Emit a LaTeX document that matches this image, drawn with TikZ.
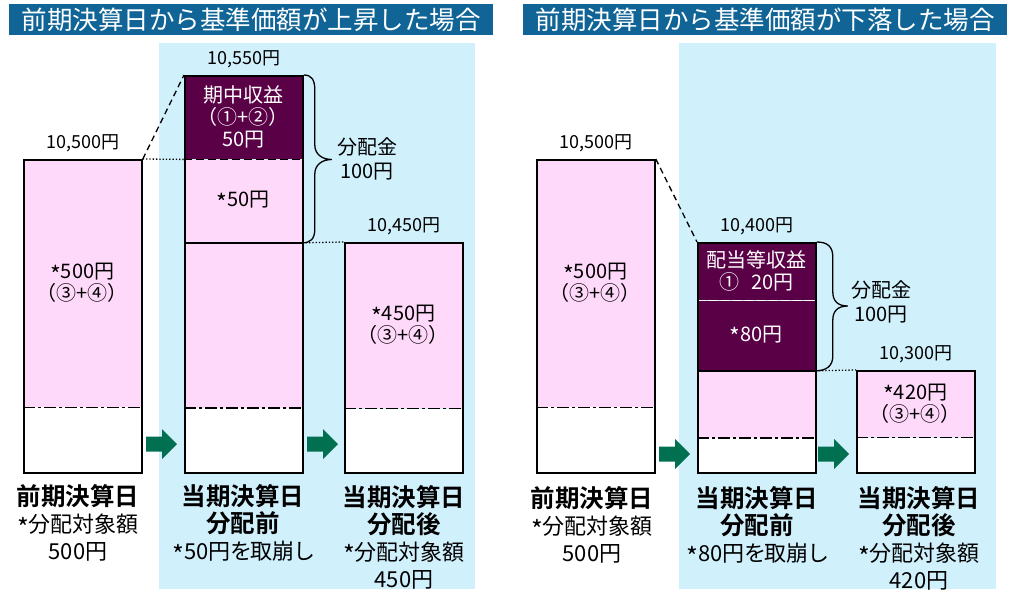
\documentclass[tikz,border=0pt]{standalone}
\usepackage{fontspec}
\setmainfont{Noto Sans CJK JP}[BoldFont={Noto Sans CJK JP Bold}]
\newfontfamily\propfont{Noto Sans CJK JP}[RawFeature=+palt]
\usetikzlibrary{positioning}

\definecolor{titleblue}{RGB}{16,100,150}
\definecolor{bgblue}{RGB}{208,240,252}
\definecolor{barpink}{RGB}{255,217,250}
\definecolor{incomepurple}{RGB}{90,0,70}
\definecolor{arrowgreen}{RGB}{0,112,80}

% centred asterisk as in the figure
\newcommand{\astmark}{\raisebox{-0.22em}{\scalebox{1.15}{*}}}

\begin{document}
\begin{tikzpicture}[x=1pt, y=-1pt,
        seg/.style={anchor=north west, inner sep=0pt, minimum width=118pt, align=center, font=\fontsize{20}{22}\selectfont},
        barframe/.style={draw, line width=1.8pt, anchor=north west, inner sep=0pt, minimum width=118pt},
        amount/.style={inner sep=0pt, font=\fontsize{18}{20}\selectfont},
        sumtext/.style={inner sep=0pt, align=center, font=\fontsize{20}{24}\selectfont},
        caption/.style={inner sep=0pt, align=center, font=\fontsize{22}{27}\selectfont},
        headbar/.style={fill=titleblue, text=white, minimum width=484pt, minimum height=31pt, inner sep=0pt, font=\fontsize{25.5}{30}\selectfont},
        dashdotline/.style={line width=1.8pt, dash pattern=on 12pt off 3pt on 3pt off 3pt},
        splitline/.style={line width=1.8pt, dash pattern=on 8pt off 4pt},
        dotline/.style={line width=1.3pt, dotted},
        dashline/.style={line width=1.3pt, dash pattern=on 6pt off 4pt},
        braceline/.style={line width=1.3pt}
    ]
    \useasboundingbox (0,0) rectangle (1011,589);

    % Rising case
    \node[headbar] (upTitle) at (251,19.5) {前期決算日から基準価額が上昇した場合};
    \fill[bgblue] (159,43) rectangle (475,589);

    % previous closing date
    \node[seg, fill=barpink, minimum height=248pt] (upPrevFund) at (23,159) {\astmark{}500円\\（③+④）};
    \node[seg, fill=white, minimum height=65pt] (upPrevRest) at (upPrevFund.south west) {};
    \draw[dashdotline] (upPrevFund.south west) -- (upPrevFund.south east);
    \node[barframe, minimum height=313pt] (upPrev) at (23,159) {};
    \node[amount, above=6.5pt of upPrev] {10,500円};

    % before distribution
    \node[seg, fill=incomepurple, text=white, minimum height=84pt] (upBeforeIncome) at (184,75) {期中収益\\（①+②）\\50円};
    \node[seg, fill=barpink, minimum height=83pt] (upBeforeDraw) at (upBeforeIncome.south west) {\astmark{}50円};
    \node[seg, fill=barpink, minimum height=165pt] (upBeforeFund) at (upBeforeDraw.south west) {};
    \node[seg, fill=white, minimum height=65pt] (upBeforeRest) at (upBeforeFund.south west) {};
    \draw[splitline] (upBeforeIncome.south west) -- (upBeforeIncome.south east);
    \draw[line width=1.8pt] (upBeforeDraw.south west) -- (upBeforeDraw.south east);
    \draw[dashdotline] (upBeforeFund.south west) -- (upBeforeFund.south east);
    \node[barframe, minimum height=397pt] (upBefore) at (184,75) {};
    \node[amount, above=6.5pt of upBefore] {10,550円};

    % after distribution
    \node[seg, fill=barpink, minimum height=166pt] (upAfterFund) at (344,242) {\astmark{}450円\\（③+④）};
    \node[seg, fill=white, minimum height=64pt] (upAfterRest) at (upAfterFund.south west) {};
    \draw[dashdotline] (upAfterFund.south west) -- (upAfterFund.south east);
    \node[barframe, minimum height=230pt] (upAfter) at (344,242) {};
    \node[amount, above=6.5pt of upAfter] {10,450円};

    % links between the bars
    \draw[dashline] (upPrev.north east) -- (upBefore.north west);
    \draw[dotline] (upPrev.north east) -- (upBeforeDraw.north west);
    \draw[dotline] (upBeforeDraw.south east) -- (upAfter.north west);

    % distribution brace
    \draw[braceline] (upBefore.north east) .. controls +(8,0) and +(0,-10) .. ++(11,15)
        -- ++(0,55) .. controls +(0,9) and +(-10,0) .. ++(17,14.5)
        .. controls +(-10,0) and +(0,-9) .. ++(-17,14.5) -- ++(0,55)
        .. controls +(0,10) and +(8,0) .. (upBeforeDraw.south east);
    \node[sumtext] (upSum) at (367,159) {分配金\\100円};

    \foreach \ax/\ay in {146/444, 307/444}
        \fill[arrowgreen] (\ax,\ay) ++(0,-7.5) -- ++(16,0) -- ++(0,-7.5) -- ++(15,15)
            -- ++(-15,15) -- ++(0,-7.5) -- ++(-16,0) -- cycle;

    \node[caption] (upPrevCap) at (78,523) {\textbf{\fontsize{24.5}{27}\selectfont 前期決算日}\\\astmark{}分配対象額\\500円};
    \node[caption] (upBeforeCap) at (243,524.5) {\textbf{\fontsize{24.5}{27}\selectfont 当期決算日}\\\textbf{\fontsize{24.5}{27}\selectfont 分配前}\\{\propfont\astmark{}50円を取崩し}};
    \node[caption] (upAfterCap) at (404,537) {\textbf{\fontsize{24.5}{27}\selectfont 当期決算日}\\\textbf{\fontsize{24.5}{27}\selectfont 分配後}\\\astmark{}分配対象額\\450円};

    % Falling case
    \begin{scope}[xshift=513pt]
        \node[headbar] (downTitle) at (252,19.5) {前期決算日から基準価額が下落した場合};
        \fill[bgblue] (166,43) rectangle (483,589);

        % previous closing date
        \node[seg, fill=barpink, minimum height=248pt] (downPrevFund) at (23,159) {\astmark{}500円\\（③+④）};
        \node[seg, fill=white, minimum height=65pt] (downPrevRest) at (downPrevFund.south west) {};
        \draw[dashdotline] (downPrevFund.south west) -- (downPrevFund.south east);
        \node[barframe, minimum height=313pt] (downPrev) at (23,159) {};
        \node[amount, above=6.5pt of downPrev] {10,500円};

        % before distribution
        \node[seg, fill=incomepurple, text=white, minimum height=58pt] (downBeforeIncome) at (184,242) {配当等収益\\①\hspace{12pt}20円};
        \node[seg, fill=incomepurple, text=white, minimum height=70pt] (downBeforeDraw) at (downBeforeIncome.south west) {\astmark{}80円};
        \node[seg, fill=barpink, minimum height=67pt] (downBeforeFund) at (downBeforeDraw.south west) {};
        \node[seg, fill=white, minimum height=35pt] (downBeforeRest) at (downBeforeFund.south west) {};
        \draw[splitline, white] (downBeforeIncome.south west) -- (downBeforeIncome.south east);
        \draw[line width=1.8pt] (downBeforeDraw.south west) -- (downBeforeDraw.south east);
        \draw[dashdotline] (downBeforeFund.south west) -- (downBeforeFund.south east);
        \node[barframe, minimum height=230pt] (downBefore) at (184,242) {};
        \node[amount, above=6.5pt of downBefore] {10,400円};

        % after distribution
        \node[seg, fill=barpink, minimum height=67pt] (downAfterFund) at (343,370) {\astmark{}420円\\（③+④）};
        \node[seg, fill=white, minimum height=35pt] (downAfterRest) at (downAfterFund.south west) {};
        \draw[dashdotline] (downAfterFund.south west) -- (downAfterFund.south east);
        \node[barframe, minimum height=102pt] (downAfter) at (343,370) {};
        \node[amount, above=6.5pt of downAfter] {10,300円};

        % links between the bars
        \draw[dashline] (downPrev.north east) -- (downBefore.north west);
        \draw[dotline] (downBeforeDraw.south east) -- (downAfter.north west);

        % distribution brace
        \draw[braceline] (downBefore.north east) .. controls +(11,0) and +(0,-10) .. ++(16,15)
            -- ++(0,35) .. controls +(0,9) and +(-10,0) .. ++(15,14)
            .. controls +(-10,0) and +(0,-9) .. ++(-15,14) -- ++(0,36)
            .. controls +(0,10) and +(11,0) .. (downBeforeDraw.south east);
        \node[sumtext] (downSum) at (368,301.5) {分配金\\100円};

        \foreach \ax/\ay in {146/454, 305/454}
            \fill[arrowgreen] (\ax,\ay) ++(0,-7.5) -- ++(16,0) -- ++(0,-7.5) -- ++(15,15)
                -- ++(-15,15) -- ++(0,-7.5) -- ++(-16,0) -- cycle;

        \node[caption] (downPrevCap) at (79,525) {\textbf{\fontsize{24.5}{27}\selectfont 前期決算日}\\\astmark{}分配対象額\\500円};
        \node[caption] (downBeforeCap) at (244,526.5) {\textbf{\fontsize{24.5}{27}\selectfont 当期決算日}\\\textbf{\fontsize{24.5}{27}\selectfont 分配前}\\{\propfont\astmark{}80円を取崩し}};
        \node[caption] (downAfterCap) at (406,538.5) {\textbf{\fontsize{24.5}{27}\selectfont 当期決算日}\\\textbf{\fontsize{24.5}{27}\selectfont 分配後}\\\astmark{}分配対象額\\420円};
    \end{scope}
\end{tikzpicture}
\end{document}
